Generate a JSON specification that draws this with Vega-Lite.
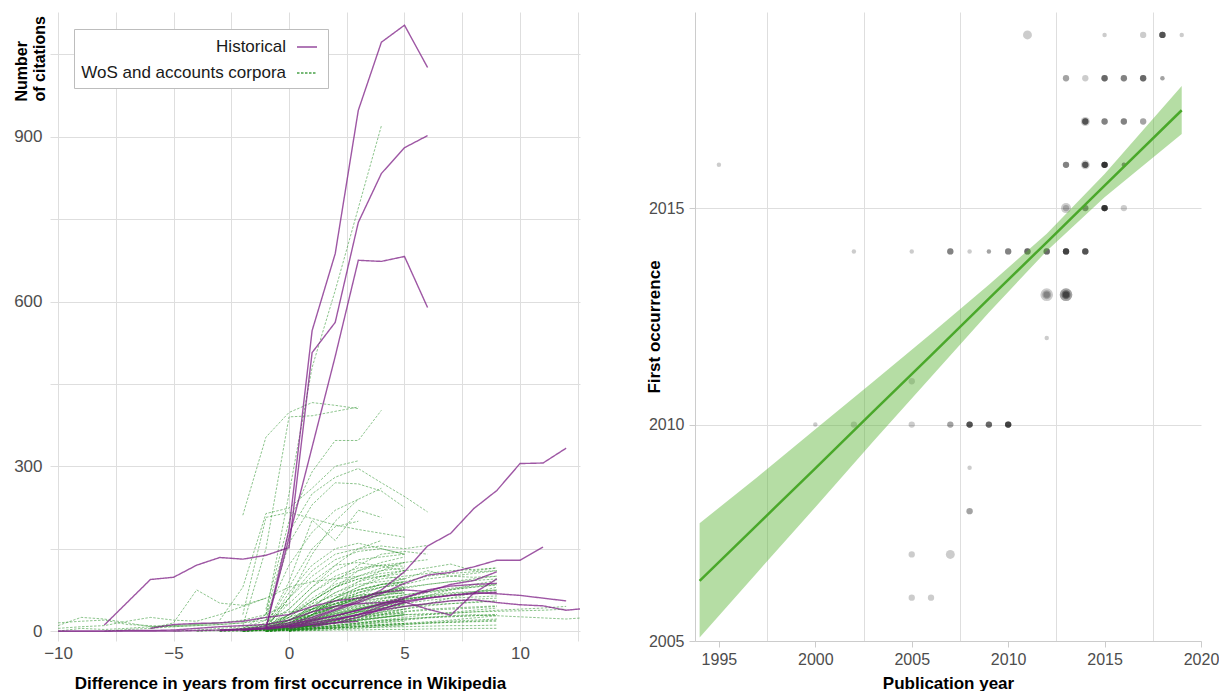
{
"$schema": "https://vega.github.io/schema/vega-lite/v6.json",
"padding": {"left": 13, "top": 12, "right": 0, "bottom": 0},
"spacing": 65,
"datasets": {
"wos": [
{"id":"g01","c":"WoS and accounts corpora","x":[-1,0,1,2,3,4],"y":[30,250,480,620,770,920]},
{"id":"g02","c":"WoS and accounts corpora","x":[-2,-1,0,1,2,3],"y":[211,353,398,416,411,405]},
{"id":"g03","c":"WoS and accounts corpora","x":[-2,-1,0,1,2,3],"y":[10,150,390,392,400,408]},
{"id":"g04","c":"WoS and accounts corpora","x":[-1,0,1,2,3,4],"y":[40,200,290,347,347,402]},
{"id":"g05","c":"WoS and accounts corpora","x":[-1,0,1,2,3,4,5,6],"y":[30,180,250,280,296,270,245,217]},
{"id":"g06","c":"WoS and accounts corpora","x":[-1,0,1,2,3,4,5],"y":[20,160,230,270,268,255,225]},
{"id":"g07","c":"WoS and accounts corpora","x":[-2,-1,0,1,2,3,4,5],"y":[30,207,216,205,193,185,178,171]},
{"id":"g08","c":"WoS and accounts corpora","x":[-1,0,1,2,3,4],"y":[10,90,202,165,220,207]},
{"id":"g09","c":"WoS and accounts corpora","x":[-1,0,1,2,3,4,5],"y":[5,70,120,150,160,150,140]},
{"id":"g10","c":"WoS and accounts corpora","x":[-1,0,1,2,3,4,5,6],"y":[5,60,110,140,150,155,150,156]},
{"id":"g11","c":"WoS and accounts corpora","x":[-3,-2,-1,0,1,2,3],"y":[20,80,214,224,260,300,310]},
{"id":"g12","c":"WoS and accounts corpora","x":[0,1,2,3,4,5,6,7,8,9],"y":[10,40,60,80,95,100,105,110,112,115]},
{"id":"g13","c":"WoS and accounts corpora","x":[-1,0,1,2,3,4,5,6,7,8,9],"y":[5,30,50,65,75,85,95,110,100,98,100]},
{"id":"g14","c":"WoS and accounts corpora","x":[-10,-9,-8,-7,-6,-5,-4,-3,-2,-1,0],"y":[10,25,22,15,8,10,12,15,20,30,50]},
{"id":"g15","c":"WoS and accounts corpora","x":[-10,-9,-8,-7,-6,-5,-4,-3,-2,-1],"y":[5,8,10,18,25,20,18,30,45,60]},
{"id":"g16","c":"WoS and accounts corpora","x":[-10,-9,-8,-7,-6,-5,-4,-3,-2,-1,0,1,2],"y":[15,18,20,12,10,8,10,12,15,25,35,40,45]},
{"id":"g17","c":"WoS and accounts corpora","x":[-10,-9,-8,-7,-6,-5,-4,-3],"y":[0,5,3,5,8,10,12,15]},
{"id":"g18","c":"WoS and accounts corpora","x":[-6,-5,-4,-3,-2,-1,0,1,2,3],"y":[5,15,75,51,47,60,80,90,95,100]},
{"id":"g19","c":"WoS and accounts corpora","x":[-2,-1,0,1,2,3,4,5],"y":[5,20,60,100,130,145,150,140]},
{"id":"g20","c":"WoS and accounts corpora","x":[-1,0,1,2,3,4,5],"y":[10,50,90,120,125,118,110]},
{"id":"g21","c":"WoS and accounts corpora","x":[-2,-1,0,1,2,3,4,5,6,7,8,9],"y":[0,5,20,40,55,70,80,85,95,100,105,110]},
{"id":"g22","c":"WoS and accounts corpora","x":[-1,0,1,2,3,4,5,6,7,8,9],"y":[2,15,35,50,60,70,78,85,90,92,95]},
{"id":"g23","c":"WoS and accounts corpora","x":[-3,-2,-1,0,1,2,3,4,5],"y":[0,2,10,30,55,80,95,100,105]},
{"id":"g24","c":"WoS and accounts corpora","x":[-1,0,1,2,3,4,5],"y":[5,40,80,110,130,135,140]},
{"id":"g25","c":"WoS and accounts corpora","x":[0,1,2,3,4,5],"y":[5,30,60,90,110,125]},
{"id":"g26","c":"WoS and accounts corpora","x":[-2,-1,0,1,2,3,4,5],"y":[0,10,30,70,100,115,120,118]},
{"id":"g27","c":"WoS and accounts corpora","x":[-1,0,1,2,3,4,5,6,7,8,9],"y":[0,8,20,32,45,55,60,62,65,68,70]},
{"id":"g28","c":"WoS and accounts corpora","x":[-2,-1,0,1,2,3,4,5,6,7,8,9],"y":[0,3,10,20,28,35,40,45,48,50,52,55]},
{"id":"g29","c":"WoS and accounts corpora","x":[-1,0,1,2,3,4,5,6,7,8,9],"y":[0,5,12,18,25,30,35,38,40,42,45]},
{"id":"g30","c":"WoS and accounts corpora","x":[0,1,2,3,4,5,6,7,8,9],"y":[0,5,10,15,20,22,25,27,28,30]},
{"id":"g31","c":"WoS and accounts corpora","x":[-1,0,1,2,3,4,5],"y":[0,10,25,45,60,72,80]},
{"id":"g32","c":"WoS and accounts corpora","x":[-1,0,1,2,3,4,5],"y":[2,20,45,70,85,90,95]},
{"id":"g33","c":"WoS and accounts corpora","x":[-2,-1,0,1,2,3,4,5],"y":[0,5,15,35,55,65,70,72]},
{"id":"g34","c":"WoS and accounts corpora","x":[0,1,2,3,4,5],"y":[0,15,35,55,65,75]},
{"id":"g35","c":"WoS and accounts corpora","x":[-1,0,1,2,3,4,5],"y":[0,5,10,15,20,25,28]},
{"id":"g36","c":"WoS and accounts corpora","x":[-1,0,1,2,3,4,5],"y":[0,2,5,8,12,15,18]},
{"id":"g37","c":"WoS and accounts corpora","x":[-3,-2,-1,0,1,2,3,4,5],"y":[0,0,2,5,10,15,20,25,30]},
{"id":"g38","c":"WoS and accounts corpora","x":[-1,0,1,2,3,4,5,6,7,8,9],"y":[0,2,4,6,8,10,12,14,16,18,20]},
{"id":"g39","c":"WoS and accounts corpora","x":[0,1,2,3,4,5,6,7,8,9],"y":[0,10,25,40,50,58,65,70,72,75]},
{"id":"g40","c":"WoS and accounts corpora","x":[-1,0,1,2,3,4,5,6,7,8,9],"y":[0,3,8,15,22,30,40,50,60,70,80]},
{"id":"g41","c":"WoS and accounts corpora","x":[-2,-1,0,1,2,3,4,5,6,7,8,9,10,11,12],"y":[0,2,5,10,15,20,25,30,32,33,35,36,37,38,40]},
{"id":"g42","c":"WoS and accounts corpora","x":[-1,0,1,2,3,4,5,6,7,8,9,10,11,12,13],"y":[0,3,6,10,14,18,22,25,28,30,28,26,24,22,25]},
{"id":"g43","c":"WoS and accounts corpora","x":[-1,0,1,2,3,4],"y":[5,60,140,200,240,260]},
{"id":"g44","c":"WoS and accounts corpora","x":[-2,-1,0,1,2,3],"y":[5,30,120,180,220,240]},
{"id":"g45","c":"WoS and accounts corpora","x":[-1,0,1,2,3],"y":[10,80,150,190,200]},
{"id":"g46","c":"WoS and accounts corpora","x":[0,1,2,3,4,5,6],"y":[10,50,90,120,140,145,140]},
{"id":"g47","c":"WoS and accounts corpora","x":[-1,0,1,2,3,4,5,6],"y":[5,25,55,80,100,115,125,130]},
{"id":"g48","c":"WoS and accounts corpora","x":[0,1,2,3,4,5,6,7,8,9],"y":[5,25,45,60,70,80,85,90,95,100]},
{"id":"g49","c":"WoS and accounts corpora","x":[-1,0,1,2,3,4,5,6,7,8,9],"y":[0,10,30,50,65,80,90,100,105,108,110]},
{"id":"g50","c":"WoS and accounts corpora","x":[-2,-1,0,1,2,3,4,5],"y":[0,2,8,18,30,40,48,55]},
{"id":"g51","c":"WoS and accounts corpora","x":[-1,0,1,2,3,4,5],"y":[0,3,6,10,14,18,22]},
{"id":"g52","c":"WoS and accounts corpora","x":[0,1,2,3,4,5],"y":[0,1,3,5,8,10]},
{"id":"g53","c":"WoS and accounts corpora","x":[-3,-2,-1,0,1,2,3,4,5],"y":[2,5,10,25,40,50,60,65,70]},
{"id":"g54","c":"WoS and accounts corpora","x":[-4,-3,-2,-1,0,1,2,3,4,5],"y":[0,2,4,8,15,30,45,60,70,75]},
{"id":"g55","c":"WoS and accounts corpora","x":[-1,0,1,2,3,4,5,6,7,8,9],"y":[0,2,3,5,6,7,8,9,10,10,11]},
{"id":"g56","c":"WoS and accounts corpora","x":[-2,-1,0,1,2,3,4,5,6,7,8,9],"y":[0,1,2,4,6,8,10,12,15,18,20,22]},
{"id":"g57","c":"WoS and accounts corpora","x":[0,1,2,3,4,5,6,7,8,9],"y":[2,8,15,25,35,45,50,55,58,60]},
{"id":"g58","c":"WoS and accounts corpora","x":[-1,0,1,2,3,4,5],"y":[5,30,70,95,110,120,125]},
{"id":"g59","c":"WoS and accounts corpora","x":[-1,0,1,2,3,4,5],"y":[3,20,40,55,65,70,68]},
{"id":"g60","c":"WoS and accounts corpora","x":[0,1,2,3,4,5],"y":[0,20,45,70,85,90]},
{"id":"g61","c":"WoS and accounts corpora","x":[-2,-1,0,1,2,3,4],"y":[2,15,40,80,120,150,165]},
{"id":"g62","c":"WoS and accounts corpora","x":[-1,0,1,2,3,4,5],"y":[0,15,35,50,60,65,60]},
{"id":"g63","c":"WoS and accounts corpora","x":[-5,-4,-3,-2,-1,0,1,2],"y":[0,2,5,8,12,20,35,50]},
{"id":"g64","c":"WoS and accounts corpora","x":[-8,-7,-6,-5,-4,-3,-2,-1,0],"y":[0,3,5,8,10,12,15,20,25]},
{"id":"g65","c":"WoS and accounts corpora","x":[-3,-2,-1,0,1,2,3,4,5],"y":[0,5,10,20,30,45,55,60,62]},
{"id":"g66","c":"WoS and accounts corpora","x":[-1,0,1,2,3,4,5,6,7,8,9],"y":[0,1,1,2,2,3,3,4,4,5,5]},
{"id":"g67","c":"WoS and accounts corpora","x":[-2,-1,0,1,2,3,4,5,6,7,8,9],"y":[0,2,5,10,20,35,50,60,70,75,80,85]},
{"id":"g68","c":"WoS and accounts corpora","x":[-1,0,1,2,3,4,5,6,7,8,9],"y":[2,8,18,28,38,45,55,65,75,85,92]},
{"id":"g69","c":"WoS and accounts corpora","x":[-1,0,1,2,3,4,5,6,7,8,9,10,11,12],"y":[0,5,10,15,20,25,30,30,32,35,38,40,42,45]},
{"id":"g70","c":"WoS and accounts corpora","x":[0,1,2,3,4,5],"y":[0,40,80,110,125,135]},
{"id":"g71","c":"WoS and accounts corpora","x":[0,1,2,3,4,5,6,7,8,9],"y":[5,30,60,80,100,110,115,122,110,115]},
{"id":"g72","c":"WoS and accounts corpora","x":[-2,-1,0,1,2,3,4,5],"y":[0,5,20,45,70,90,100,95]},
{"id":"g73","c":"WoS and accounts corpora","x":[-1,0,1,2,3,4,5],"y":[0,10,30,55,75,85,90]},
{"id":"g74","c":"WoS and accounts corpora","x":[-1,0,1,2,3,4,5],"y":[1,12,25,38,48,55,58]},
{"id":"g75","c":"WoS and accounts corpora","x":[0,1,2,3,4,5],"y":[2,10,22,35,45,52]},
{"id":"g76","c":"WoS and accounts corpora","x":[-2,-1,0,1,2,3,4,5],"y":[0,1,4,10,18,25,30,33]},
{"id":"g77","c":"WoS and accounts corpora","x":[-1,0,1,2,3,4,5,6,7,8,9],"y":[0,4,10,18,26,34,40,46,50,53,55]},
{"id":"g78","c":"WoS and accounts corpora","x":[-1,0,1,2,3,4,5,6,7,8,9],"y":[0,6,14,24,34,42,50,56,60,62,64]},
{"id":"g79","c":"WoS and accounts corpora","x":[0,1,2,3,4,5,6,7,8,9],"y":[0,3,7,12,16,20,24,26,28,30]},
{"id":"g80","c":"WoS and accounts corpora","x":[-3,-2,-1,0,1,2,3,4,5],"y":[0,1,3,8,15,25,35,42,48]},
{"id":"g81","c":"WoS and accounts corpora","x":[-1,0,1,2,3,4,5],"y":[0,20,40,60,75,85,88]},
{"id":"g82","c":"WoS and accounts corpora","x":[-1,0,1,2,3,4,5],"y":[0,8,18,30,42,50,55]},
{"id":"g83","c":"WoS and accounts corpora","x":[0,1,2,3,4,5],"y":[0,12,26,40,50,58]},
{"id":"g84","c":"WoS and accounts corpora","x":[-2,-1,0,1,2,3,4,5],"y":[0,2,6,12,20,28,35,40]},
{"id":"g85","c":"WoS and accounts corpora","x":[-1,0,1,2,3,4,5,6,7,8,9],"y":[0,2,6,10,15,20,25,30,34,38,42]},
{"id":"g86","c":"WoS and accounts corpora","x":[-1,0,1,2,3,4,5,6,7,8,9],"y":[1,10,22,35,45,52,58,62,66,70,74]},
{"id":"g87","c":"WoS and accounts corpora","x":[-1,0,1,2,3,4,5],"y":[0,25,55,80,95,105,110]},
{"id":"g88","c":"WoS and accounts corpora","x":[0,1,2,3,4,5],"y":[1,18,38,58,72,82]},
{"id":"g89","c":"WoS and accounts corpora","x":[-2,-1,0,1,2,3,4,5],"y":[0,3,12,28,45,58,66,70]},
{"id":"g90","c":"WoS and accounts corpora","x":[-1,0,1,2,3,4,5],"y":[0,4,9,15,22,28,33]},
{"id":"g91","c":"WoS and accounts corpora","x":[-4,-3,-2,-1,0,1,2,3,4,5],"y":[0,1,2,4,8,14,22,30,38,45]},
{"id":"g92","c":"WoS and accounts corpora","x":[-1,0,1,2,3,4,5,6,7,8,9],"y":[0,3,5,8,10,12,14,15,16,17,18]},
{"id":"g93","c":"WoS and accounts corpora","x":[-1,0,1,2,3,4,5,6,7,8,9],"y":[0,15,30,42,52,60,66,72,76,80,84]},
{"id":"g94","c":"WoS and accounts corpora","x":[0,1,2,3,4,5],"y":[0,6,12,18,24,30]},
{"id":"g95","c":"WoS and accounts corpora","x":[-1,0,1,2,3,4,5],"y":[2,15,30,48,62,72,78]},
{"id":"g96","c":"WoS and accounts corpora","x":[-2,-1,0,1,2,3,4,5],"y":[0,6,18,36,55,70,80,86]},
{"id":"g97","c":"WoS and accounts corpora","x":[-1,0,1,2,3,4,5,6,7,8,9],"y":[0,1,3,5,8,11,14,17,20,24,28]},
{"id":"g98","c":"WoS and accounts corpora","x":[-3,-2,-1,0,1,2,3,4,5],"y":[1,3,6,12,22,32,40,46,50]},
{"id":"g99","c":"WoS and accounts corpora","x":[-1,0,1,2,3,4,5],"y":[0,30,60,85,100,110,115]},
{"id":"g100","c":"WoS and accounts corpora","x":[0,1,2,3,4,5,6,7,8,9],"y":[3,20,35,48,58,66,72,78,82,86]},
{"id":"g101","c":"WoS and accounts corpora","x":[-1,0,1,2,3,4,5,6,7,8,9],"y":[0,8,16,22,28,32,36,40,42,44,46]},
{"id":"g102","c":"WoS and accounts corpora","x":[-1,0,1,2,3,4,5],"y":[0,2,4,6,9,12,14]},
{"id":"g103","c":"WoS and accounts corpora","x":[-2,-1,0,1,2,3,4,5],"y":[0,4,10,20,32,42,50,56]},
{"id":"g104","c":"WoS and accounts corpora","x":[-1,0,1,2,3,4,5],"y":[0,12,28,45,60,70,76]},
{"id":"g105","c":"WoS and accounts corpora","x":[0,1,2,3,4,5],"y":[0,8,20,32,42,48]},
{"id":"g106","c":"WoS and accounts corpora","x":[-1,0,1,2,3,4,5,6,7,8,9],"y":[0,5,15,28,40,50,58,64,68,72,75]}
],
"hist": [
{"id":"h01","c":"Historical","x":[-3,-2,-1,0,1,2,3,4,5,6],"y":[1,2,5,185,547,687,948,1072,1103,1026]},
{"id":"h02","c":"Historical","x":[-8,-6,-5,-4,-3,-2,-1,0,1,2,3,4,5,6],"y":[11,94,98,120,134,131,138,152,507,562,744,833,880,902]},
{"id":"h03","c":"Historical","x":[-2,-1,0,1,2,3,4,5,6],"y":[2,5,170,335,500,675,673,682,589]},
{"id":"h04","c":"Historical","x":[-3,-2,-1,0,1,2,3,4,5,6,7,8,9,10,11,12],"y":[2,4,8,15,25,40,55,75,108,155,178,223,256,305,306,333]},
{"id":"h05","c":"Historical","x":[-2,-1,0,1,2,3,4,5,6,7,8,9,10,11],"y":[2,5,10,22,38,52,68,87,102,107,117,129,129,153]},
{"id":"h06","c":"Historical","x":[-1,0,1,2,3,4,5,6,7,8,9,10,11,12,13],"y":[3,8,15,22,30,38,45,50,55,57,52,48,46,38,42]},
{"id":"h07","c":"Historical","x":[2,3,4,5,6,7,8,9,10,11,12],"y":[20,30,40,52,60,65,70,68,65,60,55]},
{"id":"h08","c":"Historical","x":[-1,0,1,2,3,4,5,6,7,8,9],"y":[5,12,20,28,38,50,62,72,85,92,108]},
{"id":"h09","c":"Historical","x":[0,1,2,3,4,5,6,7,8,9],"y":[5,12,20,30,45,60,75,82,85,87]},
{"id":"h10","c":"Historical","x":[0,1,2,3,4,5,6,7,8,9],"y":[8,18,28,38,48,55,60,65,68,71]},
{"id":"h11","c":"Historical","x":[1,2,3,4,5,6,7,8,9],"y":[8,15,25,40,53,40,29,69,95]},
{"id":"h12","c":"Historical","x":[-10,-9,-8,-7,-6,-5,-4,-3,-2,-1,0,1,2,3,4,5],"y":[0,0,0,1,1,2,5,8,10,12,20,35,45,50,52,55]},
{"id":"h13","c":"Historical","x":[-6,-5,-4,-3,-2,-1,0,1,2,3,4,5,6],"y":[5,12,14,15,18,25,30,45,55,60,70,75,72]},
{"id":"h14","c":"Historical","x":[-10,-9,-8,-7,-6,-5,-4,-3,-2,-1,0,1,2,3],"y":[0,0,0,0,0,0,1,2,3,5,8,12,15,18]}
],
"pts": [
{"p":2011,"f":2019,"n":4},{"p":2015,"f":2019,"n":1},{"p":2017,"f":2019,"n":2},
{"p":2018,"f":2019,"n":2},{"p":2018,"f":2019,"n":2},{"p":2018,"f":2019,"n":2},{"p":2018,"f":2019,"n":2},{"p":2018,"f":2019,"n":2},
{"p":2019,"f":2019,"n":1},
{"p":2013,"f":2018,"n":2},{"p":2013,"f":2018,"n":2},
{"p":2014,"f":2018,"n":2},
{"p":2015,"f":2018,"n":2},{"p":2015,"f":2018,"n":2},{"p":2015,"f":2018,"n":2},{"p":2015,"f":2018,"n":2},
{"p":2016,"f":2018,"n":2},{"p":2016,"f":2018,"n":2},{"p":2016,"f":2018,"n":2},
{"p":2017,"f":2018,"n":2},{"p":2017,"f":2018,"n":2},{"p":2017,"f":2018,"n":2},{"p":2017,"f":2018,"n":2},
{"p":2018,"f":2018,"n":1},{"p":2018,"f":2018,"n":1},
{"p":2014,"f":2017,"n":4},{"p":2014,"f":2017,"n":2},{"p":2014,"f":2017,"n":2},{"p":2014,"f":2017,"n":2},{"p":2014,"f":2017,"n":2},
{"p":2015,"f":2017,"n":2},{"p":2015,"f":2017,"n":2},{"p":2015,"f":2017,"n":2},
{"p":2016,"f":2017,"n":2},{"p":2016,"f":2017,"n":2},{"p":2016,"f":2017,"n":2},
{"p":2017,"f":2017,"n":2},{"p":2017,"f":2017,"n":2},
{"p":1995,"f":2016,"n":1},
{"p":2013,"f":2016,"n":2},{"p":2013,"f":2016,"n":2},{"p":2013,"f":2016,"n":2},
{"p":2014,"f":2016,"n":4},{"p":2014,"f":2016,"n":2},{"p":2014,"f":2016,"n":2},{"p":2014,"f":2016,"n":2},{"p":2014,"f":2016,"n":2},
{"p":2015,"f":2016,"n":2},{"p":2015,"f":2016,"n":2},{"p":2015,"f":2016,"n":2},{"p":2015,"f":2016,"n":2},{"p":2015,"f":2016,"n":2},{"p":2015,"f":2016,"n":2},{"p":2015,"f":2016,"n":2},
{"p":2016,"f":2016,"n":1},{"p":2016,"f":2016,"n":1},{"p":2016,"f":2016,"n":1},
{"p":2013,"f":2015,"n":5},{"p":2013,"f":2015,"n":2},
{"p":2014,"f":2015,"n":2},{"p":2014,"f":2015,"n":2},{"p":2014,"f":2015,"n":2},
{"p":2015,"f":2015,"n":2},{"p":2015,"f":2015,"n":2},{"p":2015,"f":2015,"n":2},{"p":2015,"f":2015,"n":2},{"p":2015,"f":2015,"n":2},{"p":2015,"f":2015,"n":2},{"p":2015,"f":2015,"n":2},
{"p":2016,"f":2015,"n":2},
{"p":2002,"f":2014,"n":1},{"p":2005,"f":2014,"n":1},
{"p":2007,"f":2014,"n":2},{"p":2007,"f":2014,"n":2},{"p":2007,"f":2014,"n":2},
{"p":2008,"f":2014,"n":1},
{"p":2009,"f":2014,"n":1},{"p":2009,"f":2014,"n":1},
{"p":2010,"f":2014,"n":2},{"p":2010,"f":2014,"n":2},{"p":2010,"f":2014,"n":2},
{"p":2011,"f":2014,"n":2},{"p":2011,"f":2014,"n":2},{"p":2011,"f":2014,"n":2},{"p":2011,"f":2014,"n":2},
{"p":2012,"f":2014,"n":2},{"p":2012,"f":2014,"n":2},{"p":2012,"f":2014,"n":2},{"p":2012,"f":2014,"n":2},
{"p":2013,"f":2014,"n":2},{"p":2013,"f":2014,"n":2},{"p":2013,"f":2014,"n":2},{"p":2013,"f":2014,"n":2},{"p":2013,"f":2014,"n":2},{"p":2013,"f":2014,"n":2},
{"p":2014,"f":2014,"n":2},{"p":2014,"f":2014,"n":2},{"p":2014,"f":2014,"n":2},{"p":2014,"f":2014,"n":2},{"p":2014,"f":2014,"n":2},
{"p":2012,"f":2013,"n":8},{"p":2012,"f":2013,"n":4},{"p":2012,"f":2013,"n":2},
{"p":2013,"f":2013,"n":8},{"p":2013,"f":2013,"n":8},{"p":2013,"f":2013,"n":4},{"p":2013,"f":2013,"n":4},{"p":2013,"f":2013,"n":2},{"p":2013,"f":2013,"n":2},
{"p":2012,"f":2012,"n":1},
{"p":2005,"f":2011,"n":2},
{"p":2000,"f":2010,"n":1},{"p":2002,"f":2010,"n":2},{"p":2005,"f":2010,"n":2},
{"p":2007,"f":2010,"n":2},{"p":2007,"f":2010,"n":2},
{"p":2008,"f":2010,"n":2},{"p":2008,"f":2010,"n":2},{"p":2008,"f":2010,"n":2},{"p":2008,"f":2010,"n":2},{"p":2008,"f":2010,"n":2},
{"p":2009,"f":2010,"n":2},{"p":2009,"f":2010,"n":2},{"p":2009,"f":2010,"n":2},{"p":2009,"f":2010,"n":2},
{"p":2010,"f":2010,"n":2},{"p":2010,"f":2010,"n":2},{"p":2010,"f":2010,"n":2},{"p":2010,"f":2010,"n":2},{"p":2010,"f":2010,"n":2},{"p":2010,"f":2010,"n":2},
{"p":2008,"f":2009,"n":1},
{"p":2008,"f":2008,"n":2},{"p":2008,"f":2008,"n":2},
{"p":2005,"f":2007,"n":2},{"p":2007,"f":2007,"n":4},
{"p":2005,"f":2006,"n":2},{"p":2006,"f":2006,"n":2}
],
"fit": [
{"x":1994,"lo":2005.08,"hi":2007.72,"fit":2006.39},
{"x":1997,"lo":2006.59,"hi":2008.79,"fit":2007.69},
{"x":2000,"lo":2008.09,"hi":2009.89,"fit":2008.99},
{"x":2003,"lo":2009.61,"hi":2010.99,"fit":2010.30},
{"x":2006,"lo":2011.10,"hi":2012.10,"fit":2011.60},
{"x":2009,"lo":2012.59,"hi":2013.23,"fit":2012.91},
{"x":2012,"lo":2014.01,"hi":2014.41,"fit":2014.21},
{"x":2015,"lo":2015.25,"hi":2015.79,"fit":2015.52},
{"x":2019,"lo":2016.71,"hi":2017.82,"fit":2017.26}
]
},
"hconcat": [
{
"width": 530, "height": 629,
"encoding": {
 "x": {"field":"x","type":"quantitative","scale":{"domain":[-10.35,12.6],"nice":false,"zero":false},
   "axis":{"values":[-10,-7.5,-5,-2.5,0,2.5,5,7.5,10,12.5],"labelExpr":"datum.value % 5 == 0 ? datum.label : ''","ticks":false,"domain":false,"grid":true,"labelPadding":4,"labelFlush":false,"labelFontSize":17,
     "title":"Difference in years from first occurrence in Wikipedia","titleX":240,"titleY":34,"titleBaseline":"top","titleAlign":"center"}},
 "y": {"field":"y","type":"quantitative","scale":{"domain":[-18,1127],"nice":false,"zero":false},
   "axis":{"values":[0,150,300,450,600,750,900,1050],"labelExpr":"datum.value % 300 == 0 ? datum.label : ''","ticks":false,"domain":false,"grid":true,"labelPadding":8,"labelFlush":false,"labelFontSize":17,
     "title":["Number","of citations"],"titleAngle":-90,"titleAlign":"left","titleBaseline":"top","titleX":-37,"titleY":89,"titleLineHeight":18,"titleFontSize":16}},
 "detail": {"field":"id","type":"nominal"},
 "color": {"field":"c","type":"nominal","scale":{"domain":["Historical","WoS and accounts corpora"],"range":["#7d1f86","#1a8a1a"]},
   "legend":{"title":null,"orient":"none","legendX":24,"legendY":17,"symbolType":"stroke","symbolSize":400,"symbolStrokeWidth":2,"symbolOpacity":0.6,"labelAlign":"right","labelOffset":-32,"symbolOffset":215,"labelFontSize":17,"labelColor":"#1a1a1a","labelLimit":400,"strokeColor":"#bdbdbd","fillColor":"white","padding":7,"rowPadding":7}},
 "strokeDash": {"field":"c","type":"nominal","scale":{"domain":["Historical","WoS and accounts corpora"],"range":[[1,0],[2.5,1.5]]},
   "legend":{"title":null,"orient":"none","legendX":24,"legendY":17,"symbolType":"stroke","symbolSize":400,"symbolStrokeWidth":2,"symbolOpacity":0.6,"labelAlign":"right","labelOffset":-32,"symbolOffset":215,"labelFontSize":17,"labelColor":"#1a1a1a","labelLimit":400,"strokeColor":"#bdbdbd","fillColor":"white","padding":7,"rowPadding":7}}
},
"layer": [
 {"data":{"name":"wos"},"transform":[{"flatten":["x","y"]}],"mark":{"type":"line","clip":true,"strokeWidth":1,"opacity":0.5}},
 {"data":{"name":"hist"},"transform":[{"flatten":["x","y"]}],"mark":{"type":"line","clip":true,"strokeWidth":1.4,"opacity":0.75}}
]
},
{
"width": 506, "height": 629,
"layer": [
 {"data":{"name":"pts"},
  "mark":{"type":"circle","color":"black","opacity":0.2},
  "encoding":{
   "x":{"field":"p","type":"quantitative","scale":{"domain":[1993.76,2020],"nice":false,"zero":false},
     "axis":{"values":[1995,1997.5,2000,2002.5,2005,2007.5,2010,2012.5,2015,2017.5,2020],"format":"d","labelExpr":"datum.value % 5 == 0 ? datum.label : ''",
       "grid":true,"gridOpacity":{"condition":{"test":"datum.value % 5 != 0","value":1},"value":0},
       "tickOpacity":{"condition":{"test":"datum.value % 5 == 0","value":1},"value":0},
       "tickSize":6,"labelFlush":false,"labelPadding":4,"title":"Publication year","titleY":34,"titleBaseline":"top"}},
   "y":{"field":"f","type":"quantitative","scale":{"domain":[2005,2019.53],"nice":false,"zero":false},
     "axis":{"values":[2005,2010,2015],"format":"d","grid":true,"tickSize":6,"labelFlush":false,"labelPadding":5,
       "title":"First occurrence","titleX":-32,"titleBaseline":"bottom"}},
   "size":{"field":"n","type":"quantitative","scale":{"domain":[0,8],"range":[0,160],"zero":true},"legend":null}
  }},
 {"data":{"name":"fit"},
  "mark":{"type":"area","color":"#5cb335","opacity":0.45},
  "encoding":{"x":{"field":"x","type":"quantitative"},"y":{"field":"lo","type":"quantitative"},"y2":{"field":"hi"}}},
 {"data":{"name":"fit"},
  "mark":{"type":"line","color":"#4aa82a","strokeWidth":2.5},
  "encoding":{"x":{"field":"x","type":"quantitative"},"y":{"field":"fit","type":"quantitative"}}}
]
}
],
"config": {
 "font": "Liberation Sans",
 "view": {"stroke": null},
 "axis": {"labelColor":"#4d4d4d","labelFontSize":16,"titleFontSize":17,"titleColor":"#000000","titleFontWeight":"bold","gridColor":"#dedede","gridWidth":1,"domainColor":"#cccccc","tickColor":"#cccccc"}
}
}
